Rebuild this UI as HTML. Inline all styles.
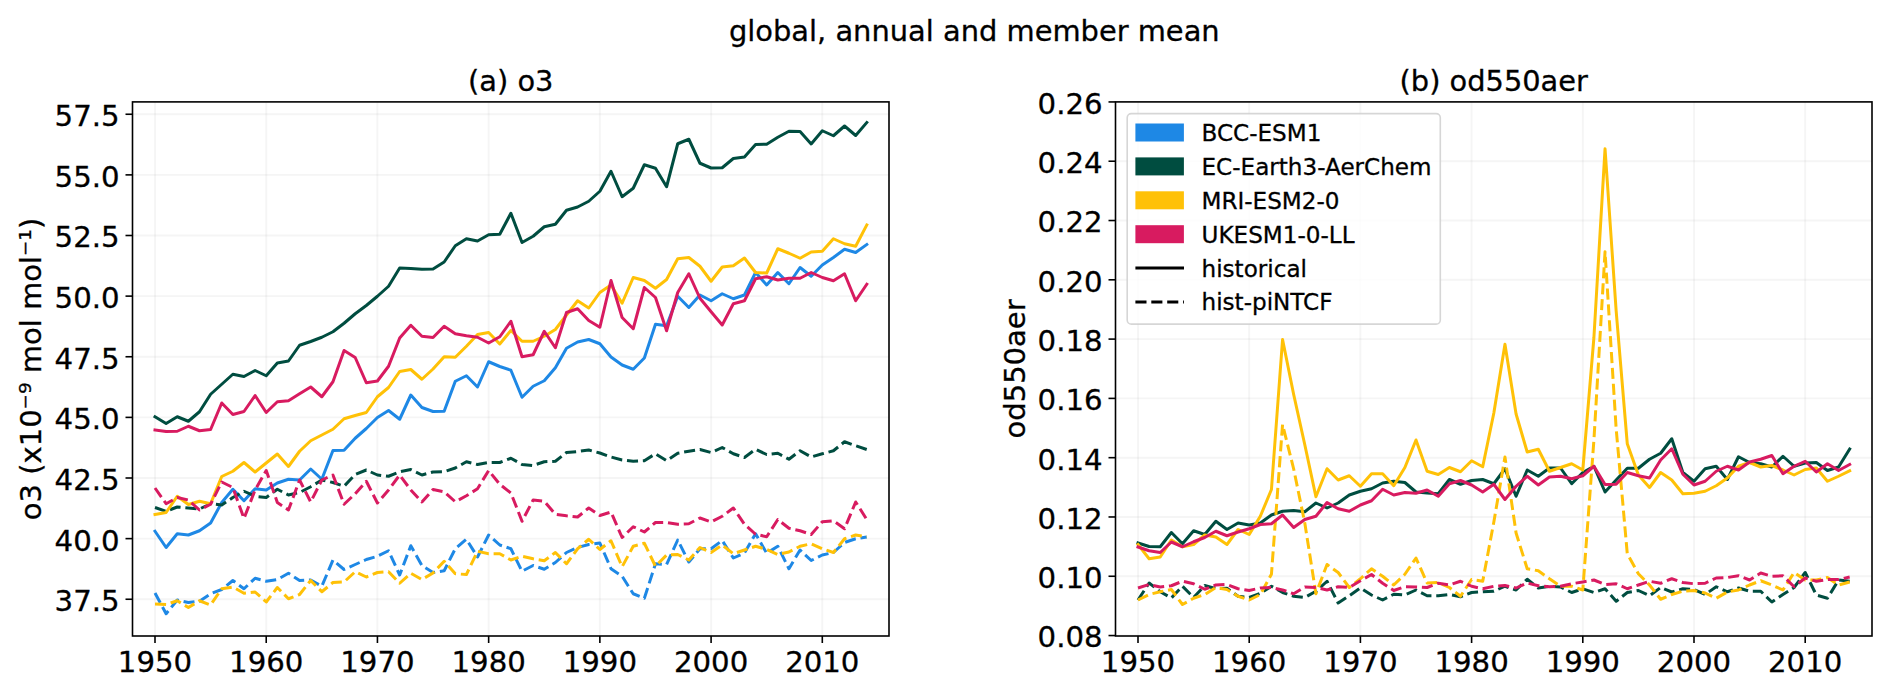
<!DOCTYPE html>
<html><head><meta charset="utf-8"><title>global, annual and member mean</title>
<style>html,body{margin:0;padding:0;background:#fff}svg{display:block}text{stroke:#000;stroke-width:0.3px}</style></head>
<body>
<svg width="1892" height="691" viewBox="0 0 1892 691" font-family='"DejaVu Sans", "Liberation Sans", sans-serif' fill="#000">
<rect width="1892" height="691" fill="#fff"/>
<text x="974.3" y="41.4" font-size="28.9" text-anchor="middle">global, annual and member mean</text>
<line x1="155.00" y1="101.9" x2="155.00" y2="636.0" stroke="#b0b0b0" stroke-opacity="0.12" stroke-width="1.9"/>
<line x1="266.22" y1="101.9" x2="266.22" y2="636.0" stroke="#b0b0b0" stroke-opacity="0.12" stroke-width="1.9"/>
<line x1="377.43" y1="101.9" x2="377.43" y2="636.0" stroke="#b0b0b0" stroke-opacity="0.12" stroke-width="1.9"/>
<line x1="488.65" y1="101.9" x2="488.65" y2="636.0" stroke="#b0b0b0" stroke-opacity="0.12" stroke-width="1.9"/>
<line x1="599.87" y1="101.9" x2="599.87" y2="636.0" stroke="#b0b0b0" stroke-opacity="0.12" stroke-width="1.9"/>
<line x1="711.09" y1="101.9" x2="711.09" y2="636.0" stroke="#b0b0b0" stroke-opacity="0.12" stroke-width="1.9"/>
<line x1="822.30" y1="101.9" x2="822.30" y2="636.0" stroke="#b0b0b0" stroke-opacity="0.12" stroke-width="1.9"/>
<line x1="132.5" y1="599.25" x2="889.0" y2="599.25" stroke="#b0b0b0" stroke-opacity="0.12" stroke-width="1.9"/>
<line x1="132.5" y1="538.62" x2="889.0" y2="538.62" stroke="#b0b0b0" stroke-opacity="0.12" stroke-width="1.9"/>
<line x1="132.5" y1="478.00" x2="889.0" y2="478.00" stroke="#b0b0b0" stroke-opacity="0.12" stroke-width="1.9"/>
<line x1="132.5" y1="417.38" x2="889.0" y2="417.38" stroke="#b0b0b0" stroke-opacity="0.12" stroke-width="1.9"/>
<line x1="132.5" y1="356.75" x2="889.0" y2="356.75" stroke="#b0b0b0" stroke-opacity="0.12" stroke-width="1.9"/>
<line x1="132.5" y1="296.12" x2="889.0" y2="296.12" stroke="#b0b0b0" stroke-opacity="0.12" stroke-width="1.9"/>
<line x1="132.5" y1="235.50" x2="889.0" y2="235.50" stroke="#b0b0b0" stroke-opacity="0.12" stroke-width="1.9"/>
<line x1="132.5" y1="174.88" x2="889.0" y2="174.88" stroke="#b0b0b0" stroke-opacity="0.12" stroke-width="1.9"/>
<line x1="132.5" y1="114.25" x2="889.0" y2="114.25" stroke="#b0b0b0" stroke-opacity="0.12" stroke-width="1.9"/>
<line x1="1138.00" y1="101.9" x2="1138.00" y2="636.0" stroke="#b0b0b0" stroke-opacity="0.12" stroke-width="1.9"/>
<line x1="1249.20" y1="101.9" x2="1249.20" y2="636.0" stroke="#b0b0b0" stroke-opacity="0.12" stroke-width="1.9"/>
<line x1="1360.40" y1="101.9" x2="1360.40" y2="636.0" stroke="#b0b0b0" stroke-opacity="0.12" stroke-width="1.9"/>
<line x1="1471.60" y1="101.9" x2="1471.60" y2="636.0" stroke="#b0b0b0" stroke-opacity="0.12" stroke-width="1.9"/>
<line x1="1582.80" y1="101.9" x2="1582.80" y2="636.0" stroke="#b0b0b0" stroke-opacity="0.12" stroke-width="1.9"/>
<line x1="1694.00" y1="101.9" x2="1694.00" y2="636.0" stroke="#b0b0b0" stroke-opacity="0.12" stroke-width="1.9"/>
<line x1="1805.20" y1="101.9" x2="1805.20" y2="636.0" stroke="#b0b0b0" stroke-opacity="0.12" stroke-width="1.9"/>
<line x1="1115.5" y1="635.55" x2="1872.0" y2="635.55" stroke="#b0b0b0" stroke-opacity="0.12" stroke-width="1.9"/>
<line x1="1115.5" y1="576.26" x2="1872.0" y2="576.26" stroke="#b0b0b0" stroke-opacity="0.12" stroke-width="1.9"/>
<line x1="1115.5" y1="516.97" x2="1872.0" y2="516.97" stroke="#b0b0b0" stroke-opacity="0.12" stroke-width="1.9"/>
<line x1="1115.5" y1="457.68" x2="1872.0" y2="457.68" stroke="#b0b0b0" stroke-opacity="0.12" stroke-width="1.9"/>
<line x1="1115.5" y1="398.39" x2="1872.0" y2="398.39" stroke="#b0b0b0" stroke-opacity="0.12" stroke-width="1.9"/>
<line x1="1115.5" y1="339.10" x2="1872.0" y2="339.10" stroke="#b0b0b0" stroke-opacity="0.12" stroke-width="1.9"/>
<line x1="1115.5" y1="279.81" x2="1872.0" y2="279.81" stroke="#b0b0b0" stroke-opacity="0.12" stroke-width="1.9"/>
<line x1="1115.5" y1="220.52" x2="1872.0" y2="220.52" stroke="#b0b0b0" stroke-opacity="0.12" stroke-width="1.9"/>
<line x1="1115.5" y1="161.23" x2="1872.0" y2="161.23" stroke="#b0b0b0" stroke-opacity="0.12" stroke-width="1.9"/>
<line x1="1115.5" y1="101.94" x2="1872.0" y2="101.94" stroke="#b0b0b0" stroke-opacity="0.12" stroke-width="1.9"/>
<polyline points="155.00,531.25 166.12,547.50 177.24,533.75 188.37,535.00 199.49,530.75 210.61,523.00 221.73,502.50 232.85,489.25 243.97,500.75 255.10,488.75 266.22,490.00 277.34,483.00 288.46,479.25 299.58,480.00 310.70,469.00 321.83,479.25 332.95,450.50 344.07,450.25 355.19,438.25 366.31,428.50 377.43,417.50 388.56,410.50 399.68,419.25 410.80,395.00 421.92,407.50 433.04,411.50 444.16,411.25 455.29,381.25 466.41,375.75 477.53,387.00 488.65,361.75 499.77,366.50 510.89,370.25 522.02,397.25 533.14,386.25 544.26,380.75 555.38,367.75 566.50,348.25 577.62,342.00 588.75,339.50 599.87,343.75 610.99,357.00 622.11,365.00 633.23,369.25 644.35,358.00 655.48,324.25 666.60,325.75 677.72,296.25 688.84,307.50 699.96,295.00 711.09,300.75 722.21,293.75 733.33,298.75 744.45,295.00 755.57,272.50 766.69,285.00 777.82,272.50 788.94,283.75 800.06,267.50 811.18,276.25 822.30,265.00 833.42,257.50 844.55,249.25 855.67,252.50 866.79,244.50" fill="none" stroke="#1E88E5" stroke-width="3.0" stroke-linejoin="round" stroke-linecap="square"/>
<polyline points="155.00,593.00 166.12,613.75 177.24,600.00 188.37,602.50 199.49,601.25 210.61,593.75 221.73,589.50 232.85,580.50 243.97,588.75 255.10,578.25 266.22,581.25 277.34,579.50 288.46,573.25 299.58,580.50 310.70,580.00 321.83,586.25 332.95,560.00 344.07,569.50 355.19,564.50 366.31,559.50 377.43,556.25 388.56,550.75 399.68,575.00 410.80,545.75 421.92,565.50 433.04,572.50 444.16,570.75 455.29,548.75 466.41,539.25 477.53,557.00 488.65,535.00 499.77,545.00 510.89,548.75 522.02,571.25 533.14,565.50 544.26,569.25 555.38,562.50 566.50,552.50 577.62,547.50 588.75,544.50 599.87,543.00 610.99,568.75 622.11,576.25 633.23,593.75 644.35,598.25 655.48,563.75 666.60,564.50 677.72,540.00 688.84,562.00 699.96,548.75 711.09,548.75 722.21,540.50 733.33,558.00 744.45,553.00 755.57,533.75 766.69,553.25 777.82,546.25 788.94,568.75 800.06,550.00 811.18,560.50 822.30,555.00 833.42,552.50 844.55,542.50 855.67,538.75 866.79,537.00" fill="none" stroke="#1E88E5" stroke-width="3.0" stroke-linejoin="round" stroke-linecap="butt" stroke-dasharray="11.1 4.8"/>
<polyline points="155.00,416.75 166.12,423.50 177.24,416.75 188.37,421.25 199.49,411.75 210.61,394.25 221.73,384.25 232.85,374.25 243.97,376.50 255.10,370.50 266.22,375.75 277.34,363.00 288.46,361.00 299.58,345.25 310.70,341.50 321.83,337.25 332.95,331.75 344.07,323.25 355.19,313.75 366.31,305.50 377.43,296.25 388.56,286.25 399.68,268.00 410.80,268.50 421.92,269.25 433.04,269.00 444.16,262.00 455.29,245.75 466.41,238.75 477.53,241.00 488.65,234.75 499.77,234.25 510.89,213.25 522.02,242.50 533.14,236.25 544.26,226.75 555.38,224.25 566.50,210.25 577.62,207.00 588.75,201.25 599.87,191.25 610.99,171.25 622.11,196.75 633.23,188.25 644.35,164.75 655.48,168.25 666.60,186.75 677.72,143.75 688.84,139.25 699.96,163.25 711.09,168.00 722.21,167.75 733.33,158.50 744.45,157.00 755.57,144.50 766.69,144.25 777.82,137.25 788.94,131.25 800.06,131.50 811.18,144.00 822.30,130.75 833.42,135.75 844.55,126.00 855.67,135.50 866.79,122.50" fill="none" stroke="#004D40" stroke-width="3.0" stroke-linejoin="round" stroke-linecap="square"/>
<polyline points="155.00,507.50 166.12,511.25 177.24,507.00 188.37,508.00 199.49,509.00 210.61,503.75 221.73,505.00 232.85,497.50 243.97,491.25 255.10,496.25 266.22,497.50 277.34,489.25 288.46,495.00 299.58,492.50 310.70,486.75 321.83,480.00 332.95,482.50 344.07,486.25 355.19,474.50 366.31,470.00 377.43,475.00 388.56,476.25 399.68,471.75 410.80,469.50 421.92,475.00 433.04,472.00 444.16,471.75 455.29,468.00 466.41,461.75 477.53,464.50 488.65,462.50 499.77,462.50 510.89,458.25 522.02,464.50 533.14,465.50 544.26,461.75 555.38,461.25 566.50,452.50 577.62,451.50 588.75,450.00 599.87,453.00 610.99,457.00 622.11,460.00 633.23,461.25 644.35,460.75 655.48,453.75 666.60,460.75 677.72,453.25 688.84,451.25 699.96,449.50 711.09,452.50 722.21,447.50 733.33,453.75 744.45,457.50 755.57,449.25 766.69,454.50 777.82,453.25 788.94,459.25 800.06,450.75 811.18,457.00 822.30,453.75 833.42,450.75 844.55,441.75 855.67,445.75 866.79,449.50" fill="none" stroke="#004D40" stroke-width="3.0" stroke-linejoin="round" stroke-linecap="butt" stroke-dasharray="11.1 4.8"/>
<polyline points="155.00,514.50 166.12,512.50 177.24,496.25 188.37,504.50 199.49,501.25 210.61,503.75 221.73,476.50 232.85,471.25 243.97,462.50 255.10,472.00 266.22,463.00 277.34,454.00 288.46,466.50 299.58,451.25 310.70,440.75 321.83,435.00 332.95,429.25 344.07,418.75 355.19,415.50 366.31,412.50 377.43,396.75 388.56,387.50 399.68,371.50 410.80,369.50 421.92,379.25 433.04,369.00 444.16,356.75 455.29,357.25 466.41,346.25 477.53,334.50 488.65,332.50 499.77,344.00 510.89,330.50 522.02,341.25 533.14,341.25 544.26,336.25 555.38,329.50 566.50,315.00 577.62,300.75 588.75,308.00 599.87,292.50 610.99,285.00 622.11,303.25 633.23,277.50 644.35,280.50 655.48,288.25 666.60,279.50 677.72,258.75 688.84,257.50 699.96,266.25 711.09,281.25 722.21,267.00 733.33,265.75 744.45,258.00 755.57,272.50 766.69,273.00 777.82,248.75 788.94,253.25 800.06,258.25 811.18,252.00 822.30,251.25 833.42,238.75 844.55,243.75 855.67,246.25 866.79,225.00" fill="none" stroke="#FFC107" stroke-width="3.0" stroke-linejoin="round" stroke-linecap="square"/>
<polyline points="155.00,604.00 166.12,604.50 177.24,600.75 188.37,607.50 199.49,600.75 210.61,605.00 221.73,588.75 232.85,587.00 243.97,593.25 255.10,592.00 266.22,602.00 277.34,587.50 288.46,598.75 299.58,594.50 310.70,580.50 321.83,591.75 332.95,582.50 344.07,582.00 355.19,571.75 366.31,577.00 377.43,572.50 388.56,571.75 399.68,583.25 410.80,573.25 421.92,579.50 433.04,573.00 444.16,561.25 455.29,573.75 466.41,574.50 477.53,551.25 488.65,553.75 499.77,553.75 510.89,560.00 522.02,556.25 533.14,558.75 544.26,560.75 555.38,552.50 566.50,563.75 577.62,548.75 588.75,539.25 599.87,549.50 610.99,540.75 622.11,566.75 633.23,546.25 644.35,543.25 655.48,566.25 666.60,555.00 677.72,554.50 688.84,560.00 699.96,547.50 711.09,552.50 722.21,545.00 733.33,553.75 744.45,550.00 755.57,546.25 766.69,549.50 777.82,554.50 788.94,552.00 800.06,546.25 811.18,543.75 822.30,548.75 833.42,552.50 844.55,538.75 855.67,535.00 866.79,536.75" fill="none" stroke="#FFC107" stroke-width="3.0" stroke-linejoin="round" stroke-linecap="butt" stroke-dasharray="11.1 4.8"/>
<polyline points="155.00,430.00 166.12,431.50 177.24,431.25 188.37,426.25 199.49,430.75 210.61,429.50 221.73,403.00 232.85,414.50 243.97,411.50 255.10,395.50 266.22,412.50 277.34,401.75 288.46,400.75 299.58,393.75 310.70,387.00 321.83,396.75 332.95,381.75 344.07,350.50 355.19,357.50 366.31,382.75 377.43,381.00 388.56,366.25 399.68,338.00 410.80,325.25 421.92,336.25 433.04,337.50 444.16,326.25 455.29,333.75 466.41,335.75 477.53,337.25 488.65,343.00 499.77,336.75 510.89,321.25 522.02,356.75 533.14,354.75 544.26,331.25 555.38,347.75 566.50,312.50 577.62,308.75 588.75,320.50 599.87,327.25 610.99,280.50 622.11,317.50 633.23,328.75 644.35,287.50 655.48,297.50 666.60,330.75 677.72,292.50 688.84,273.75 699.96,298.25 711.09,311.75 722.21,325.00 733.33,303.75 744.45,300.75 755.57,278.75 766.69,276.75 777.82,280.00 788.94,278.25 800.06,278.25 811.18,272.50 822.30,277.50 833.42,280.75 844.55,273.75 855.67,300.75 866.79,284.25" fill="none" stroke="#D81B60" stroke-width="3.0" stroke-linejoin="round" stroke-linecap="square"/>
<polyline points="155.00,488.00 166.12,503.75 177.24,497.50 188.37,500.00 199.49,510.00 210.61,504.25 221.73,482.00 232.85,487.50 243.97,518.50 255.10,490.00 266.22,470.50 277.34,502.50 288.46,510.00 299.58,480.00 310.70,502.00 321.83,480.00 332.95,475.00 344.07,504.25 355.19,493.75 366.31,481.25 377.43,503.00 388.56,490.00 399.68,475.00 410.80,490.00 421.92,502.00 433.04,489.50 444.16,491.75 455.29,501.75 466.41,495.75 477.53,488.75 488.65,470.50 499.77,484.25 510.89,493.00 522.02,521.25 533.14,500.00 544.26,501.25 555.38,514.25 566.50,515.75 577.62,517.00 588.75,508.00 599.87,515.50 610.99,512.00 622.11,537.50 633.23,526.75 644.35,532.00 655.48,522.50 666.60,522.50 677.72,524.25 688.84,523.75 699.96,518.00 711.09,522.00 722.21,516.25 733.33,508.00 744.45,524.25 755.57,534.25 766.69,536.75 777.82,519.50 788.94,528.25 800.06,530.75 811.18,534.50 822.30,521.75 833.42,520.75 844.55,528.75 855.67,502.00 866.79,519.50" fill="none" stroke="#D81B60" stroke-width="3.0" stroke-linejoin="round" stroke-linecap="butt" stroke-dasharray="11.1 4.8"/>
<polyline points="1138.00,543.00 1149.12,546.50 1160.24,546.75 1171.36,532.50 1182.48,543.75 1193.60,530.75 1204.72,534.50 1215.84,521.25 1226.96,529.50 1238.08,523.00 1249.20,525.00 1260.32,523.00 1271.44,515.00 1282.56,511.25 1293.68,510.50 1304.80,511.75 1315.92,503.00 1327.04,508.00 1338.16,503.00 1349.28,495.00 1360.40,491.25 1371.52,488.75 1382.64,483.00 1393.76,481.25 1404.88,482.50 1416.00,492.00 1427.12,493.00 1438.24,493.75 1449.36,479.50 1460.48,484.25 1471.60,480.50 1482.72,479.50 1493.84,483.75 1504.96,468.75 1516.08,496.25 1527.20,470.00 1538.32,476.25 1549.44,468.00 1560.56,468.00 1571.68,483.75 1582.80,472.50 1593.92,466.25 1605.04,492.00 1616.16,480.00 1627.28,468.25 1638.40,468.25 1649.52,459.25 1660.64,453.25 1671.76,438.75 1682.88,472.50 1694.00,481.25 1705.12,468.75 1716.24,466.25 1727.36,479.50 1738.48,456.75 1749.60,462.50 1760.72,463.75 1771.84,467.00 1782.96,456.25 1794.08,466.25 1805.20,463.00 1816.32,462.50 1827.44,470.50 1838.56,467.00 1849.68,449.00" fill="none" stroke="#004D40" stroke-width="3.0" stroke-linejoin="round" stroke-linecap="square"/>
<polyline points="1138.00,600.00 1149.12,583.00 1160.24,591.75 1171.36,598.00 1182.48,586.25 1193.60,597.50 1204.72,585.50 1215.84,588.75 1226.96,588.25 1238.08,596.25 1249.20,597.50 1260.32,593.25 1271.44,586.25 1282.56,592.50 1293.68,596.25 1304.80,597.50 1315.92,591.25 1327.04,581.25 1338.16,603.00 1349.28,595.75 1360.40,588.00 1371.52,595.00 1382.64,600.00 1393.76,594.25 1404.88,595.00 1416.00,590.00 1427.12,595.75 1438.24,595.75 1449.36,594.50 1460.48,596.75 1471.60,592.50 1482.72,591.75 1493.84,591.25 1504.96,586.25 1516.08,590.00 1527.20,579.25 1538.32,588.00 1549.44,586.25 1560.56,587.00 1571.68,592.50 1582.80,588.75 1593.92,592.50 1605.04,588.75 1616.16,601.25 1627.28,592.50 1638.40,590.50 1649.52,595.75 1660.64,587.50 1671.76,592.00 1682.88,588.75 1694.00,589.50 1705.12,594.50 1716.24,586.75 1727.36,591.75 1738.48,588.00 1749.60,591.25 1760.72,591.25 1771.84,602.00 1782.96,594.50 1794.08,587.50 1805.20,572.50 1816.32,595.00 1827.44,598.25 1838.56,580.00 1849.68,581.25" fill="none" stroke="#004D40" stroke-width="3.0" stroke-linejoin="round" stroke-linecap="butt" stroke-dasharray="11.1 4.8"/>
<polyline points="1138.00,544.50 1149.12,558.75 1160.24,557.00 1171.36,540.00 1182.48,546.75 1193.60,544.50 1204.72,535.00 1215.84,537.00 1226.96,544.50 1238.08,529.50 1249.20,534.50 1260.32,516.25 1271.44,489.50 1282.56,339.50 1293.68,394.50 1304.80,444.75 1315.92,496.75 1327.04,468.75 1338.16,480.00 1349.28,475.75 1360.40,486.25 1371.52,473.75 1382.64,473.75 1393.76,485.75 1404.88,467.50 1416.00,440.00 1427.12,471.25 1438.24,474.50 1449.36,467.50 1460.48,471.75 1471.60,460.75 1482.72,466.75 1493.84,413.00 1504.96,344.25 1516.08,414.00 1527.20,452.00 1538.32,449.25 1549.44,471.25 1560.56,467.50 1571.68,463.75 1582.80,470.00 1593.92,337.50 1605.04,148.75 1616.16,311.00 1627.28,443.75 1638.40,475.00 1649.52,487.50 1660.64,472.50 1671.76,480.00 1682.88,493.75 1694.00,493.25 1705.12,491.25 1716.24,485.75 1727.36,478.00 1738.48,466.25 1749.60,462.50 1760.72,467.00 1771.84,465.50 1782.96,470.00 1794.08,475.00 1805.20,469.50 1816.32,468.00 1827.44,481.25 1838.56,476.25 1849.68,470.75" fill="none" stroke="#FFC107" stroke-width="3.0" stroke-linejoin="round" stroke-linecap="square"/>
<polyline points="1138.00,600.00 1149.12,594.50 1160.24,591.75 1171.36,589.50 1182.48,604.50 1193.60,598.25 1204.72,594.50 1215.84,587.50 1226.96,589.50 1238.08,596.25 1249.20,600.00 1260.32,594.50 1271.44,574.25 1282.56,424.50 1293.68,469.00 1304.80,523.00 1315.92,593.75 1327.04,564.50 1338.16,572.50 1349.28,587.50 1360.40,578.75 1371.52,568.75 1382.64,576.25 1393.76,585.00 1404.88,574.25 1416.00,558.00 1427.12,583.00 1438.24,582.50 1449.36,587.50 1460.48,596.25 1471.60,579.50 1482.72,581.25 1493.84,522.00 1504.96,457.00 1516.08,533.00 1527.20,568.75 1538.32,570.75 1549.44,578.75 1560.56,586.25 1571.68,586.25 1582.80,590.00 1593.92,440.00 1605.04,251.75 1616.16,428.60 1627.28,553.75 1638.40,573.75 1649.52,585.00 1660.64,599.25 1671.76,594.50 1682.88,591.25 1694.00,590.50 1705.12,593.00 1716.24,598.25 1727.36,592.00 1738.48,590.00 1749.60,585.00 1760.72,580.75 1771.84,585.00 1782.96,590.00 1794.08,572.50 1805.20,580.00 1816.32,580.00 1827.44,577.50 1838.56,585.00 1849.68,582.00" fill="none" stroke="#FFC107" stroke-width="3.0" stroke-linejoin="round" stroke-linecap="butt" stroke-dasharray="11.1 4.8"/>
<polyline points="1138.00,547.00 1149.12,550.75 1160.24,552.50 1171.36,542.00 1182.48,546.75 1193.60,541.75 1204.72,537.50 1215.84,531.25 1226.96,535.75 1238.08,532.00 1249.20,528.75 1260.32,524.50 1271.44,523.75 1282.56,515.00 1293.68,527.50 1304.80,519.50 1315.92,516.25 1327.04,502.50 1338.16,508.75 1349.28,511.25 1360.40,505.00 1371.52,500.75 1382.64,489.25 1393.76,495.00 1404.88,492.50 1416.00,493.25 1427.12,490.00 1438.24,496.25 1449.36,483.75 1460.48,480.50 1471.60,485.00 1482.72,492.00 1493.84,484.25 1504.96,499.50 1516.08,486.25 1527.20,476.25 1538.32,485.00 1549.44,477.00 1560.56,476.25 1571.68,478.75 1582.80,475.75 1593.92,466.25 1605.04,484.50 1616.16,484.25 1627.28,472.50 1638.40,475.75 1649.52,478.00 1660.64,460.00 1671.76,448.75 1682.88,474.25 1694.00,485.00 1705.12,481.25 1716.24,471.25 1727.36,466.25 1738.48,470.00 1749.60,462.00 1760.72,459.25 1771.84,455.50 1782.96,473.75 1794.08,466.25 1805.20,461.25 1816.32,472.00 1827.44,463.75 1838.56,470.50 1849.68,464.50" fill="none" stroke="#D81B60" stroke-width="3.0" stroke-linejoin="round" stroke-linecap="square"/>
<polyline points="1138.00,588.00 1149.12,584.50 1160.24,587.00 1171.36,585.75 1182.48,581.25 1193.60,583.75 1204.72,589.25 1215.84,585.00 1226.96,584.50 1238.08,588.75 1249.20,590.50 1260.32,588.00 1271.44,587.50 1282.56,590.00 1293.68,593.75 1304.80,587.00 1315.92,587.50 1327.04,590.00 1338.16,586.75 1349.28,587.50 1360.40,580.75 1371.52,574.50 1382.64,583.25 1393.76,590.50 1404.88,586.75 1416.00,587.00 1427.12,587.50 1438.24,583.25 1449.36,585.00 1460.48,581.25 1471.60,586.25 1482.72,588.75 1493.84,586.25 1504.96,585.50 1516.08,588.00 1527.20,583.00 1538.32,585.75 1549.44,586.75 1560.56,586.25 1571.68,583.75 1582.80,582.00 1593.92,580.00 1605.04,584.50 1616.16,583.75 1627.28,588.75 1638.40,585.00 1649.52,581.25 1660.64,583.25 1671.76,578.75 1682.88,582.50 1694.00,583.75 1705.12,583.25 1716.24,578.00 1727.36,577.50 1738.48,575.75 1749.60,580.00 1760.72,573.00 1771.84,576.25 1782.96,575.75 1794.08,586.75 1805.20,578.00 1816.32,581.25 1827.44,579.50 1838.56,579.50 1849.68,577.00" fill="none" stroke="#D81B60" stroke-width="3.0" stroke-linejoin="round" stroke-linecap="butt" stroke-dasharray="11.1 4.8"/>
<rect x="132.5" y="101.9" width="756.5" height="534.1" fill="none" stroke="#000" stroke-width="1.6"/>
<line x1="155.00" y1="636.0" x2="155.00" y2="643.0" stroke="#000" stroke-width="1.6"/>
<text x="155.00" y="672" font-size="29.2" text-anchor="middle">1950</text>
<line x1="266.22" y1="636.0" x2="266.22" y2="643.0" stroke="#000" stroke-width="1.6"/>
<text x="266.22" y="672" font-size="29.2" text-anchor="middle">1960</text>
<line x1="377.43" y1="636.0" x2="377.43" y2="643.0" stroke="#000" stroke-width="1.6"/>
<text x="377.43" y="672" font-size="29.2" text-anchor="middle">1970</text>
<line x1="488.65" y1="636.0" x2="488.65" y2="643.0" stroke="#000" stroke-width="1.6"/>
<text x="488.65" y="672" font-size="29.2" text-anchor="middle">1980</text>
<line x1="599.87" y1="636.0" x2="599.87" y2="643.0" stroke="#000" stroke-width="1.6"/>
<text x="599.87" y="672" font-size="29.2" text-anchor="middle">1990</text>
<line x1="711.09" y1="636.0" x2="711.09" y2="643.0" stroke="#000" stroke-width="1.6"/>
<text x="711.09" y="672" font-size="29.2" text-anchor="middle">2000</text>
<line x1="822.30" y1="636.0" x2="822.30" y2="643.0" stroke="#000" stroke-width="1.6"/>
<text x="822.30" y="672" font-size="29.2" text-anchor="middle">2010</text>
<line x1="125.5" y1="599.25" x2="132.5" y2="599.25" stroke="#000" stroke-width="1.6"/>
<text x="119.60" y="611.15" font-size="29.2" text-anchor="end">37.5</text>
<line x1="125.5" y1="538.62" x2="132.5" y2="538.62" stroke="#000" stroke-width="1.6"/>
<text x="119.60" y="550.52" font-size="29.2" text-anchor="end">40.0</text>
<line x1="125.5" y1="478.00" x2="132.5" y2="478.00" stroke="#000" stroke-width="1.6"/>
<text x="119.60" y="489.90" font-size="29.2" text-anchor="end">42.5</text>
<line x1="125.5" y1="417.38" x2="132.5" y2="417.38" stroke="#000" stroke-width="1.6"/>
<text x="119.60" y="429.27" font-size="29.2" text-anchor="end">45.0</text>
<line x1="125.5" y1="356.75" x2="132.5" y2="356.75" stroke="#000" stroke-width="1.6"/>
<text x="119.60" y="368.65" font-size="29.2" text-anchor="end">47.5</text>
<line x1="125.5" y1="296.12" x2="132.5" y2="296.12" stroke="#000" stroke-width="1.6"/>
<text x="119.60" y="308.02" font-size="29.2" text-anchor="end">50.0</text>
<line x1="125.5" y1="235.50" x2="132.5" y2="235.50" stroke="#000" stroke-width="1.6"/>
<text x="119.60" y="247.40" font-size="29.2" text-anchor="end">52.5</text>
<line x1="125.5" y1="174.88" x2="132.5" y2="174.88" stroke="#000" stroke-width="1.6"/>
<text x="119.60" y="186.78" font-size="29.2" text-anchor="end">55.0</text>
<line x1="125.5" y1="114.25" x2="132.5" y2="114.25" stroke="#000" stroke-width="1.6"/>
<text x="119.60" y="126.15" font-size="29.2" text-anchor="end">57.5</text>
<text x="510.75" y="91.2" font-size="28.85" text-anchor="middle">(a) o3</text>
<text transform="translate(41,368.95) rotate(-90)" font-size="29.0" text-anchor="middle">o3 (x10⁻⁹ mol mol⁻¹)</text>
<rect x="1115.5" y="101.9" width="756.5" height="534.1" fill="none" stroke="#000" stroke-width="1.6"/>
<line x1="1138.00" y1="636.0" x2="1138.00" y2="643.0" stroke="#000" stroke-width="1.6"/>
<text x="1138.00" y="672" font-size="29.2" text-anchor="middle">1950</text>
<line x1="1249.20" y1="636.0" x2="1249.20" y2="643.0" stroke="#000" stroke-width="1.6"/>
<text x="1249.20" y="672" font-size="29.2" text-anchor="middle">1960</text>
<line x1="1360.40" y1="636.0" x2="1360.40" y2="643.0" stroke="#000" stroke-width="1.6"/>
<text x="1360.40" y="672" font-size="29.2" text-anchor="middle">1970</text>
<line x1="1471.60" y1="636.0" x2="1471.60" y2="643.0" stroke="#000" stroke-width="1.6"/>
<text x="1471.60" y="672" font-size="29.2" text-anchor="middle">1980</text>
<line x1="1582.80" y1="636.0" x2="1582.80" y2="643.0" stroke="#000" stroke-width="1.6"/>
<text x="1582.80" y="672" font-size="29.2" text-anchor="middle">1990</text>
<line x1="1694.00" y1="636.0" x2="1694.00" y2="643.0" stroke="#000" stroke-width="1.6"/>
<text x="1694.00" y="672" font-size="29.2" text-anchor="middle">2000</text>
<line x1="1805.20" y1="636.0" x2="1805.20" y2="643.0" stroke="#000" stroke-width="1.6"/>
<text x="1805.20" y="672" font-size="29.2" text-anchor="middle">2010</text>
<line x1="1108.5" y1="635.55" x2="1115.5" y2="635.55" stroke="#000" stroke-width="1.6"/>
<text x="1102.60" y="647.45" font-size="29.2" text-anchor="end">0.08</text>
<line x1="1108.5" y1="576.26" x2="1115.5" y2="576.26" stroke="#000" stroke-width="1.6"/>
<text x="1102.60" y="588.16" font-size="29.2" text-anchor="end">0.10</text>
<line x1="1108.5" y1="516.97" x2="1115.5" y2="516.97" stroke="#000" stroke-width="1.6"/>
<text x="1102.60" y="528.87" font-size="29.2" text-anchor="end">0.12</text>
<line x1="1108.5" y1="457.68" x2="1115.5" y2="457.68" stroke="#000" stroke-width="1.6"/>
<text x="1102.60" y="469.58" font-size="29.2" text-anchor="end">0.14</text>
<line x1="1108.5" y1="398.39" x2="1115.5" y2="398.39" stroke="#000" stroke-width="1.6"/>
<text x="1102.60" y="410.29" font-size="29.2" text-anchor="end">0.16</text>
<line x1="1108.5" y1="339.10" x2="1115.5" y2="339.10" stroke="#000" stroke-width="1.6"/>
<text x="1102.60" y="351.00" font-size="29.2" text-anchor="end">0.18</text>
<line x1="1108.5" y1="279.81" x2="1115.5" y2="279.81" stroke="#000" stroke-width="1.6"/>
<text x="1102.60" y="291.71" font-size="29.2" text-anchor="end">0.20</text>
<line x1="1108.5" y1="220.52" x2="1115.5" y2="220.52" stroke="#000" stroke-width="1.6"/>
<text x="1102.60" y="232.42" font-size="29.2" text-anchor="end">0.22</text>
<line x1="1108.5" y1="161.23" x2="1115.5" y2="161.23" stroke="#000" stroke-width="1.6"/>
<text x="1102.60" y="173.13" font-size="29.2" text-anchor="end">0.24</text>
<line x1="1108.5" y1="101.94" x2="1115.5" y2="101.94" stroke="#000" stroke-width="1.6"/>
<text x="1102.60" y="113.84" font-size="29.2" text-anchor="end">0.26</text>
<text x="1493.75" y="91.2" font-size="28.85" text-anchor="middle">(b) od550aer</text>
<text transform="translate(1024.5,368.95) rotate(-90)" font-size="29.0" text-anchor="middle">od550aer</text>
<rect x="1127.2" y="113.6" width="313.0999999999999" height="210.50000000000003" rx="4.2" fill="#fff" fill-opacity="0.8" stroke="#ccc" stroke-opacity="0.8" stroke-width="1.6"/>
<rect x="1135.4" y="123.50" width="48.5" height="18" fill="#1E88E5"/>
<text x="1201.5" y="140.90" font-size="23.1">BCC-ESM1</text>
<rect x="1135.4" y="157.40" width="48.5" height="18" fill="#004D40"/>
<text x="1201.5" y="174.80" font-size="23.1">EC-Earth3-AerChem</text>
<rect x="1135.4" y="191.30" width="48.5" height="18" fill="#FFC107"/>
<text x="1201.5" y="208.70" font-size="23.1">MRI-ESM2-0</text>
<rect x="1135.4" y="225.20" width="48.5" height="18" fill="#D81B60"/>
<text x="1201.5" y="242.60" font-size="23.1">UKESM1-0-LL</text>
<line x1="1135.4" y1="268.10" x2="1184" y2="268.10" stroke="#000" stroke-width="3.0"/>
<text x="1201.5" y="276.50" font-size="23.1">historical</text>
<line x1="1135.4" y1="302.00" x2="1184" y2="302.00" stroke="#000" stroke-width="3.0" stroke-dasharray="11.1 4.8"/>
<text x="1201.5" y="310.40" font-size="23.1">hist-piNTCF</text>
</svg>
</body></html>
